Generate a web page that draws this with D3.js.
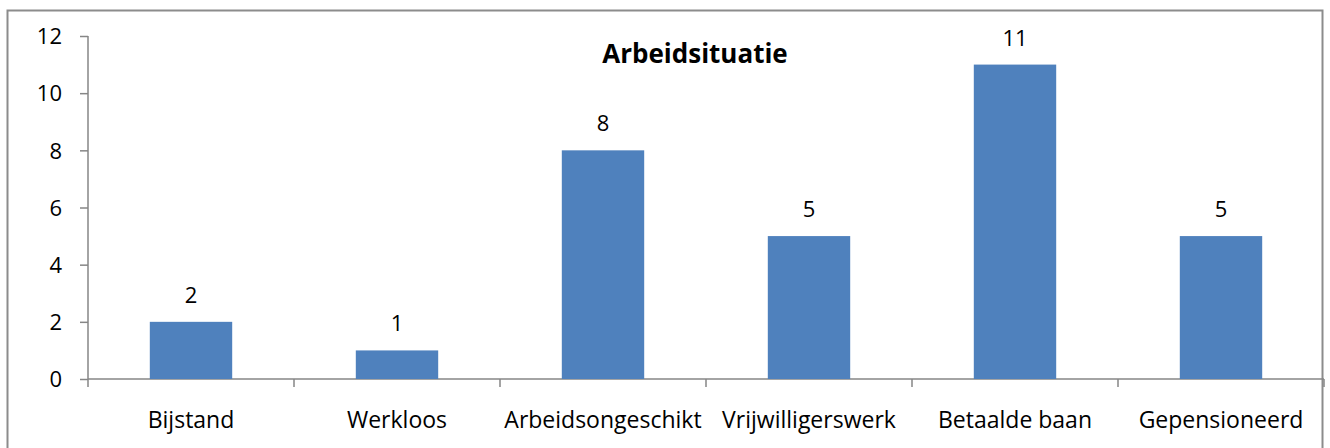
<!DOCTYPE html>
<html>
<head>
<meta charset="utf-8">
<script src="https://cdn.jsdelivr.net/npm/d3@7"></script>
<style>
  body { margin: 0; background: #fff; }
  svg text { font-family: "Open Sans", "Noto Sans", sans-serif; fill: #000; }
</style>
</head>
<body>
<svg id="chart" width="1330" height="448"></svg>
<script>
var categories = ["Bijstand", "Werkloos", "Arbeidsongeschikt", "Vrijwilligerswerk", "Betaalde baan", "Gepensioneerd"];
var counts = [2, 1, 8, 5, 11, 5];
var yTicks = [0, 2, 4, 6, 8, 10, 12];
var title = "Arbeidsituatie";

var svg = d3.select("#chart");

// outer frame
svg.append("rect")
  .attr("x", 7.5).attr("y", 10.5)
  .attr("width", 1315).attr("height", 445)
  .attr("fill", "none")
  .attr("stroke", "#8c8c8c")
  .attr("stroke-width", 2);

var mLeft = 88, mRight = 1324, mTop = 36, mBottom = 379;

var x = d3.scaleBand().domain(categories).range([mLeft, mRight]).paddingInner(0).paddingOuter(0);
var y = d3.scaleLinear().domain([0, 12]).range([mBottom, mTop]);

// y axis
var yAxis = svg.append("g").attr("transform", "translate(" + mLeft + ",0)")
  .call(d3.axisLeft(y).tickValues(yTicks).tickSize(8).tickPadding(18));
yAxis.selectAll("line, path").attr("stroke", "#868686").attr("stroke-width", 1.5);
yAxis.select(".domain").attr("d", "M0," + mTop + "V" + mBottom);
yAxis.selectAll("text").style("font-size", "22px").attr("dy", "0.35em");

// x axis
var xAxis = svg.append("g").attr("transform", "translate(0," + mBottom + ")");
xAxis.append("line").attr("x1", mLeft).attr("x2", mRight).attr("y1", 0).attr("y2", 0)
  .attr("stroke", "#868686").attr("stroke-width", 1.5);
var boundaries = categories.map(function(c) { return x(c); }).concat([mRight]);
xAxis.selectAll(".tk").data(boundaries).enter().append("line")
  .attr("x1", function(d) { return d; }).attr("x2", function(d) { return d; })
  .attr("y1", 0).attr("y2", 8)
  .attr("stroke", "#868686").attr("stroke-width", 1.5);
xAxis.selectAll(".lbl").data(categories).enter().append("text")
  .attr("x", function(d) { return x(d) + x.bandwidth() / 2; })
  .attr("y", 49)
  .attr("text-anchor", "middle")
  .style("font-size", "23px")
  .text(function(d) { return d; });

// bars
var bw = x.bandwidth() * 0.4;
svg.selectAll(".bar").data(counts).enter().append("rect")
  .attr("x", function(d, i) { return x(categories[i]) + x.bandwidth() / 2 - bw / 2; })
  .attr("y", function(d) { return y(d); })
  .attr("width", bw)
  .attr("height", function(d) { return y(0) - y(d); })
  .attr("fill", "#4f81bd");

// value labels
svg.selectAll(".val").data(counts).enter().append("text")
  .attr("x", function(d, i) { return x(categories[i]) + x.bandwidth() / 2; })
  .attr("y", function(d) { return y(d) - 19; })
  .attr("text-anchor", "middle")
  .style("font-size", "22px")
  .text(function(d) { return d; });

// title
svg.append("text")
  .attr("x", 695).attr("y", 63)
  .attr("text-anchor", "middle")
  .style("font-size", "26px")
  .style("font-weight", "bold")
  .text(title);
</script>
</body>
</html>
